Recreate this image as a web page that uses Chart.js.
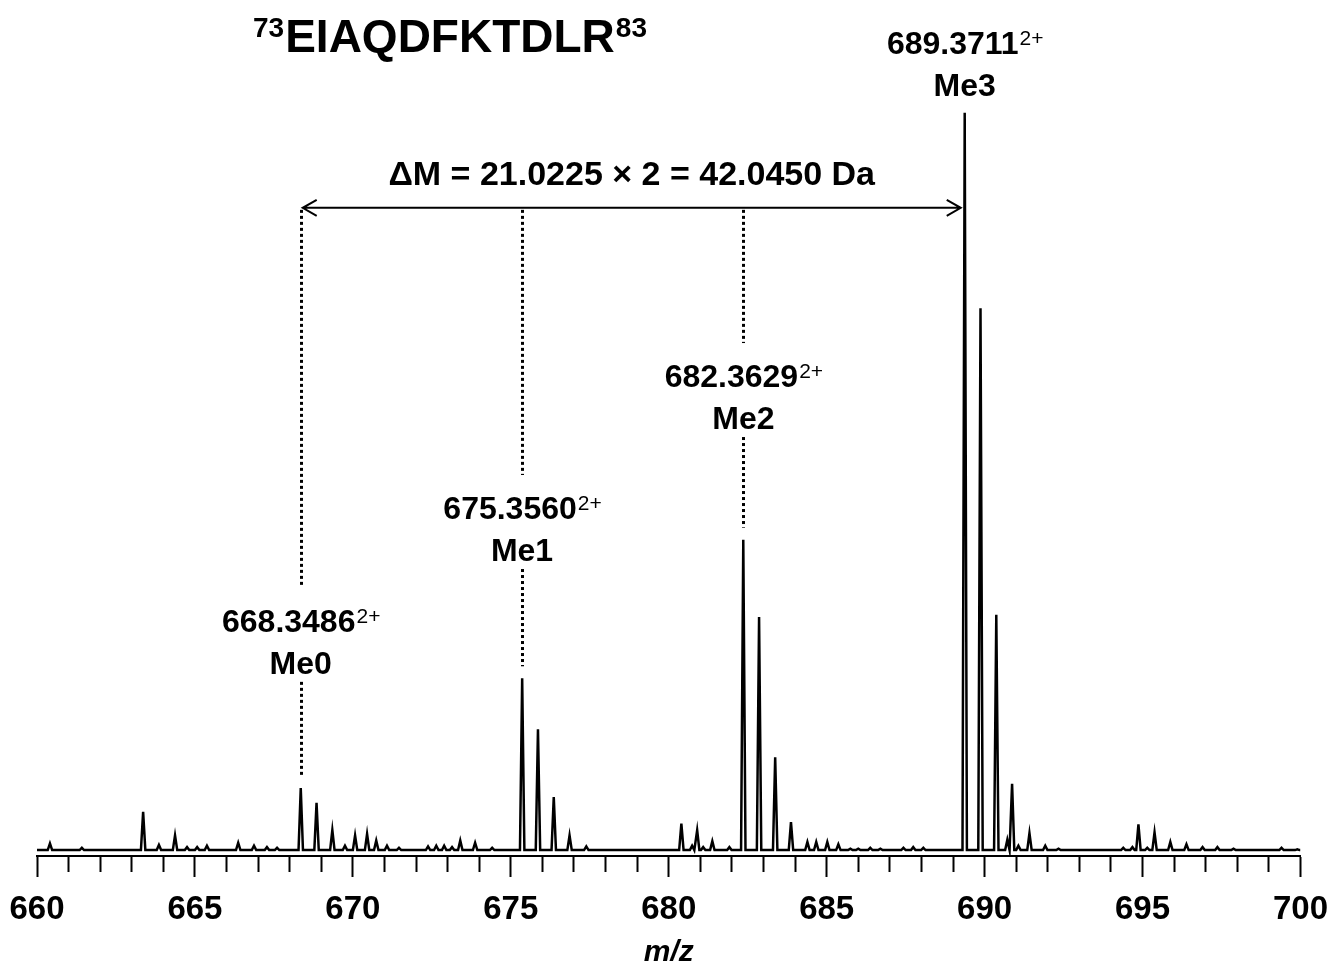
<!DOCTYPE html>
<html>
<head>
<meta charset="utf-8">
<script src="https://cdn.jsdelivr.net/npm/chart.js@4"></script>
<style>
  html, body { margin: 0; padding: 0; background: #fff; }
  #wrap { width: 1334px; height: 969px; position: relative; }
</style>
</head>
<body>
<div id="wrap"><canvas id="c-spec"></canvas></div>
<script>
// centroid peaks (m/z, relative intensity)
const peakMz = [
  660.41, 661.42, 663.36, 663.86, 664.37, 664.75, 665.07, 665.38, 666.37, 666.87,
  667.28, 667.60, 668.35, 668.85, 669.35, 669.75, 670.07, 670.45, 670.74, 671.08,
  671.46, 672.38, 672.64, 672.89, 673.14, 673.40, 673.87, 674.41, 675.36, 675.86,
  676.36, 676.86, 677.39, 680.40, 680.74, 680.90, 681.09, 681.38, 681.92, 682.36,
  682.86, 683.37, 683.87, 684.39, 684.67, 685.02, 685.37, 685.75, 686.00, 686.38,
  686.70, 687.43, 687.74, 688.06, 689.37, 689.87, 690.37, 690.72, 690.87, 691.07,
  691.42, 691.92, 692.34, 694.39, 694.68, 694.87, 695.15, 695.38, 695.88, 696.39,
  696.90, 697.37, 697.88, 699.40, 699.90
];
const peakInt = [
  0.9, 0.3, 5.2, 0.7, 2.0, 0.4, 0.4, 0.6, 1.0, 0.6,
  0.4, 0.3, 8.4, 6.4, 2.7, 0.6, 2.0, 2.2, 1.3, 0.6,
  0.3, 0.5, 0.6, 0.6, 0.4, 1.3, 1.0, 0.3, 23.3, 16.4,
  7.2, 2.0, 0.5, 3.6, 0.6, 2.7, 0.4, 1.2, 0.4, 42.1,
  31.6, 12.6, 3.8, 1.1, 1.1, 1.1, 0.8, 0.2, 0.2, 0.3,
  0.2, 0.3, 0.4, 0.3, 100, 73.5, 31.9, 1.4, 9.0, 0.6,
  2.3, 0.6, 0.2, 0.3, 0.4, 3.5, 0.3, 2.4, 1.1, 0.8,
  0.4, 0.4, 0.2, 0.3, 0.1
];

// labelled monoisotopic peaks
const labelMz = [668.3486, 675.3560, 682.3629, 689.3711];
const labelInt = [8.4, 23.3, 42.1, 100];
const labelText = ['668.3486', '675.3560', '682.3629', '689.3711'];
const labelName = ['Me0', 'Me1', 'Me2', 'Me3'];
const labelBaseY = [29.6, 44.9, 62.8, 107.9]; // first-line baseline, intensity units

const titleSeq = 'EIAQDFKTDLR';
const titleStart = '73';
const titleEnd = '83';
const deltaText = 'ΔM = 21.0225 × 2 = 42.0450 Da';
const arrowY = 87.1;
const deltaY = 90.2;

const xMin = 660, xMax = 700;
const FONT = '"Liberation Sans", Arial, sans-serif';

// profile line: each centroid drawn as a narrow spike on the baseline
const halfW = 0.07;
const profile = [{ x: xMin, y: 0 }];
peakMz.forEach((m, i) => {
  profile.push({ x: m - halfW, y: 0 }, { x: m, y: peakInt[i] }, { x: m + halfW, y: 0 });
});
profile.push({ x: xMax, y: 0 });

function drawSup(ctx, cx, baseY, main, sup, mainFont, supFont, supRise) {
  ctx.font = mainFont;
  const w1 = ctx.measureText(main).width;
  ctx.font = supFont;
  const w2 = ctx.measureText(sup).width;
  const x0 = cx - (w1 + w2) / 2;
  ctx.textAlign = 'left';
  ctx.textBaseline = 'alphabetic';
  ctx.font = mainFont;
  ctx.fillText(main, x0, baseY);
  ctx.font = supFont;
  ctx.fillText(sup, x0 + w1 + 1, baseY - supRise);
}

function dotted(ctx, x, y1, y2) {
  ctx.save();
  ctx.setLineDash([3, 3]);
  ctx.lineWidth = 3;
  ctx.strokeStyle = '#000';
  ctx.beginPath();
  ctx.moveTo(x, y1);
  ctx.lineTo(x, y2);
  ctx.stroke();
  ctx.restore();
}

const annotate = {
  id: 'annotate',
  afterDraw(chart) {
    const { ctx } = chart;
    const xs = chart.scales.x, ys = chart.scales.y;
    ctx.save();
    ctx.fillStyle = '#000';

    // title with residue numbers
    ctx.font = `bold 46px ${FONT}`;
    const wSeq = ctx.measureText(titleSeq).width;
    ctx.font = `bold 28px ${FONT}`;
    const wA = ctx.measureText(titleStart).width;
    const wB = ctx.measureText(titleEnd).width;
    const tx = 450 - (wA + wSeq + wB + 2) / 2;
    ctx.textBaseline = 'alphabetic';
    ctx.textAlign = 'left';
    ctx.fillText(titleStart, tx, 37);
    ctx.font = `bold 46px ${FONT}`;
    ctx.fillText(titleSeq, tx + wA + 1, 52);
    ctx.font = `bold 28px ${FONT}`;
    ctx.fillText(titleEnd, tx + wA + wSeq + 2, 37);

    // peak labels and dotted guides
    labelMz.forEach((m, i) => {
      const px = xs.getPixelForValue(m);
      const b1 = ys.getPixelForValue(labelBaseY[i]);
      const b2 = b1 + 42;
      drawSup(ctx, px, b1, labelText[i], '2+', `bold 32px ${FONT}`, `21px ${FONT}`, 9);
      ctx.font = `bold 32px ${FONT}`;
      ctx.textAlign = 'center';
      ctx.fillText(labelName[i], px, b2);
      if (i < 3) {
        const top = ys.getPixelForValue(arrowY);
        dotted(ctx, Math.round(px) + 0.5, top + 2, b1 - 44);
        dotted(ctx, Math.round(px) + 0.5, b2 + 8, ys.getPixelForValue(labelInt[i]) - 12);
      }
    });

    // double-headed arrow between Me0 and Me3
    const ax1 = xs.getPixelForValue(labelMz[0]) + 2;
    const ax2 = xs.getPixelForValue(labelMz[3]) - 4;
    const ay = ys.getPixelForValue(arrowY);
    ctx.strokeStyle = '#000';
    ctx.lineWidth = 2;
    ctx.setLineDash([]);
    ctx.beginPath();
    ctx.moveTo(ax1, ay); ctx.lineTo(ax2, ay);
    ctx.moveTo(ax1 + 14, ay - 8); ctx.lineTo(ax1, ay); ctx.lineTo(ax1 + 14, ay + 8);
    ctx.moveTo(ax2 - 14, ay - 8); ctx.lineTo(ax2, ay); ctx.lineTo(ax2 - 14, ay + 8);
    ctx.stroke();

    ctx.font = `bold 34px ${FONT}`;
    ctx.textAlign = 'center';
    ctx.fillText(deltaText, (ax1 + ax2) / 2, ys.getPixelForValue(deltaY));
    ctx.restore();
  }
};

new Chart(document.getElementById('c-spec'), {
  type: 'line',
  data: {
    datasets: [{
      data: profile,
      borderColor: '#000',
      borderWidth: 2.5,
      pointRadius: 0,
      tension: 0,
      fill: false,
    }],
  },
  options: {
    responsive: true,
    maintainAspectRatio: false,
    animation: false,
    layout: { padding: { left: 37, right: 30, top: 39, bottom: 0 } },
    plugins: { legend: { display: false }, tooltip: { enabled: false } },
    scales: {
      x: {
        type: 'linear',
        min: xMin, max: xMax,
        border: { display: true, color: '#000', width: 2 },
        grid: {
          drawOnChartArea: false,
          drawTicks: true,
          tickLength: 21,
          tickColor: '#000',
          tickWidth: 2,
          tickBorderDash: ctx => (ctx.tick && ctx.tick.value % 5 === 0) ? [] : [15, 40],
        },
        ticks: {
          stepSize: 1,
          autoSkip: false,
          maxRotation: 0,
          padding: 6,
          color: '#000',
          font: { family: FONT, size: 33, weight: 'bold', lineHeight: 1.636 },
          callback: v => (v % 5 === 0 ? String(v) : ''),
        },
        title: {
          display: true,
          text: 'm/z',
          color: '#000',
          font: { family: FONT, size: 30, weight: 'bold', style: 'italic', lineHeight: 0.667 },
          padding: { top: 0, bottom: 6 },
        },
      },
      y: {
        display: false,
        min: -0.8, max: 110,
      },
    },
  },
  plugins: [annotate],
});
</script>
</body>
</html>
